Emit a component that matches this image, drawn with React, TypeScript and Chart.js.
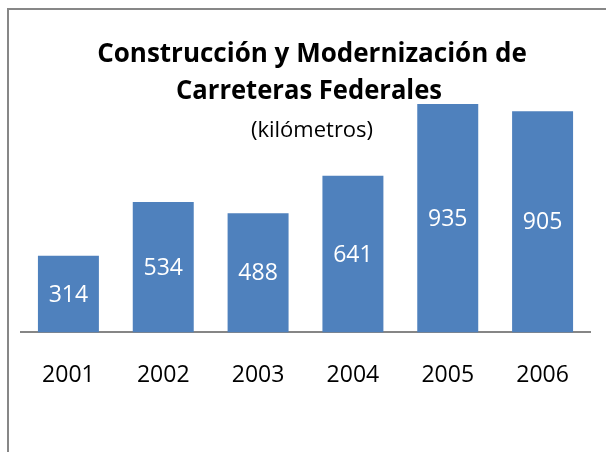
import React, { useEffect, useRef } from "react";
import { Chart, registerables } from "chart.js";

Chart.register(...registerables);

const categories = ["2001", "2002", "2003", "2004", "2005", "2006"];
const values = [314, 534, 488, 641, 935, 905];
const titleLines = ["Construcción y Modernización de", "Carreteras Federales"];
const subtitle = "(kilómetros)";

const FONT = "'Open Sans', 'DejaVu Sans', sans-serif";

const decorPlugin = {
  id: "decor",
  afterDraw(chart: any) {
    const ctx = chart.ctx;
    ctx.save();
    // outer frame
    ctx.strokeStyle = "#878787";
    ctx.lineWidth = 2;
    ctx.beginPath();
    ctx.moveTo(8, 470);
    ctx.lineTo(8, 9);
    ctx.lineTo(620, 9);
    ctx.stroke();

    // title
    ctx.fillStyle = "#000000";
    ctx.textAlign = "center";
    ctx.textBaseline = "alphabetic";
    ctx.font = `bold 26px ${FONT}`;
    ctx.fillText(titleLines[0], 312, 62, 438);
    ctx.fillText(titleLines[1], 309, 99, 266);
    ctx.font = `22px ${FONT}`;
    ctx.fillText(subtitle, 312, 137, 131);

    // value labels centred in bars
    const meta = chart.getDatasetMeta(0);
    ctx.fillStyle = "#FFFFFF";
    ctx.font = `23px ${FONT}`;
    ctx.textBaseline = "middle";
    meta.data.forEach((bar: any, i: number) => {
      const yc = (bar.y + bar.base) / 2;
      ctx.fillText(String(values[i]), bar.x, yc + 1);
    });
    ctx.restore();
  },
};

export default function App() {
  const ref = useRef<HTMLCanvasElement | null>(null);
  useEffect(() => {
    if (!ref.current) return;
    const chart = new Chart(ref.current, {
      type: "bar",
      data: {
        labels: categories,
        datasets: [
          {
            data: values,
            backgroundColor: "#4F81BD",
            borderWidth: 0,
            barPercentage: 0.643,
            categoryPercentage: 1,
          },
        ],
      },
      options: {
        responsive: false,
        animation: false,
        layout: { padding: { left: 21, right: 16, top: 88, bottom: 34 } },
        plugins: {
          legend: { display: false },
          title: { display: false },
          tooltip: { enabled: false },
        },
        scales: {
          x: {
            grid: { display: false, drawTicks: false },
            border: { display: true, color: "#868686", width: 2 },
            ticks: {
              color: "#000000",
              padding: 29,
              font: { family: FONT, size: 23 },
              maxRotation: 0,
            },
          },
          y: {
            display: false,
            min: 0,
            max: 1000,
          },
        },
      },
      plugins: [decorPlugin],
    });
    return () => chart.destroy();
  }, []);
  return (
    <div style={{ position: "absolute", left: 0, top: 0, width: 606, height: 452, background: "#fff" }}>
      <canvas ref={ref} width={606} height={452} style={{ display: "block" }} />
    </div>
  );
}
